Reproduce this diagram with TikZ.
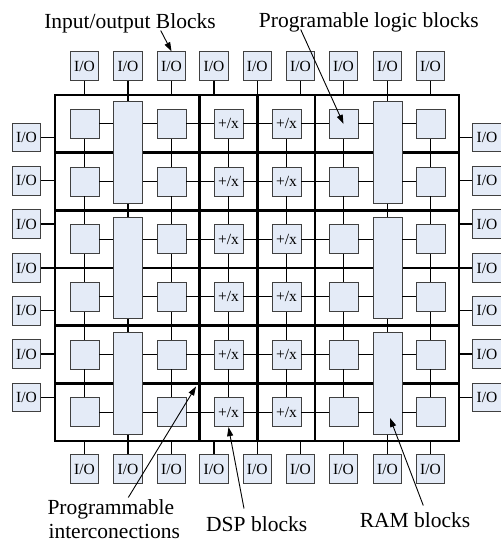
\documentclass[tikz,border=0pt]{standalone}
\usepackage{fontspec}
\setmainfont{Liberation Serif}
\usetikzlibrary{arrows.meta}
\definecolor{boxfill}{HTML}{E4EBF7}
\definecolor{boxline}{HTML}{404040}
\tikzset{
  blk/.style={draw=boxline, fill=boxfill, line width=0.9pt, minimum width=29pt, minimum height=29pt, inner sep=0pt, font=\fontsize{15.5}{17}\selectfont},
  ram/.style={blk, minimum height=101.7pt},
  iobox/.style={blk, minimum width=28.5pt, minimum height=28.5pt},
  wire/.style={line width=1.3pt},
  gridline/.style={line width=2.5pt},
  frame/.style={draw, line width=1.5pt, minimum width=404pt, minimum height=346pt, inner sep=0pt},
  lbl/.style={font=\fontsize{21.5}{25.5}\selectfont, inner sep=0pt},
  ptr/.style={line width=0.9pt, -{Triangle[length=9pt,width=6pt]}}
}
\begin{document}
\begin{tikzpicture}[x=1pt,y=-1pt]
\useasboundingbox (0,0) rectangle (501,542);
% frame and grid
\node[frame] (F) at (257,268) {};
\foreach \x in {199.5,257.3,315} \draw[gridline] (\x,95) -- (\x,441);
\foreach \y in {152.67,210.33,268,325.67,383.33} \draw[gridline] (55,\y) -- (459,\y);
% logic blocks
\foreach \c/\x in {1/84.5,3/171.5,6/343.5,8/430.5}
  \foreach \r/\y in {0/123.83,1/181.5,2/239.17,3/296.83,4/354.5,5/412.17}
    \node[blk] (b\c-\r) at (\x,\y) {};
% DSP blocks
\foreach \c/\x in {4/228.5,5/286.5}
  \foreach \r/\y in {0/123.83,1/181.5,2/239.17,3/296.83,4/354.5,5/412.17}
    \node[blk] (b\c-\r) at (\x,\y) {+/x};
% RAM blocks
\foreach \c/\x in {2/128,7/387.5}
  \foreach \p/\y in {0/152.67,1/268,2/383.33}
    \node[ram] (m\c-\p) at (\x,\y) {};
% horizontal wires
\foreach \r in {0,...,5}{
  \pgfmathtruncatemacro{\p}{int(\r/2)}
  \draw[wire] (b1-\r.east) -- (b1-\r.east -| m2-\p.west);
  \draw[wire] (b3-\r.west -| m2-\p.east) -- (b3-\r.west);
  \draw[wire] (b3-\r.east) -- (b4-\r.west);
  \draw[wire] (b4-\r.east) -- (b5-\r.west);
  \draw[wire] (b5-\r.east) -- (b6-\r.west);
  \draw[wire] (b6-\r.east) -- (b6-\r.east -| m7-\p.west);
  \draw[wire] (b8-\r.west -| m7-\p.east) -- (b8-\r.west);
}
% vertical wires
\foreach \c in {1,3,4,5,6,8}
  \foreach \r in {0,...,4}{
    \pgfmathtruncatemacro{\n}{\r+1}
    \draw[wire] (b\c-\r.south) -- (b\c-\n.north);
  }
\foreach \c in {2,7}{
  \draw[wire] (m\c-0.north |- F.north) -- (m\c-0.north);
  \draw[wire] (m\c-0.south) -- (m\c-1.north);
  \draw[wire] (m\c-1.south) -- (m\c-2.north);
  \draw[wire] (m\c-2.south) -- (m\c-2.south |- F.south);
}
% I/O blocks
\foreach \i/\x in {1/84.5,2/128,3/171.5,4/214,5/257.3,6/300.5,7/343.5,8/387.5,9/430.5}{
  \node[iobox] (t\i) at (\x,66) {I/O};
  \draw[wire] (t\i.south) -- (t\i.south |- F.north);
  \node[iobox] (d\i) at (\x,469) {I/O};
  \draw[wire] (d\i.north) -- (d\i.north |- F.south);
}
\foreach \i/\y in {1/137.5,2/180.8,3/224.1,4/268,5/310.7,6/354,7/397.3}{
  \node[iobox] (l\i) at (26.5,\y) {I/O};
  \draw[wire] (l\i.east) -- (l\i.east -| F.west);
  \node[iobox] (r\i) at (487,\y) {I/O};
  \draw[wire] (r\i.west) -- (r\i.west -| F.east);
}
% labels
\node[lbl, anchor=base] (Lio) at (130,28.3) {Input/output Blocks};
\node[lbl, anchor=base] (Lplb) at (368.8,27.5) {Programable logic blocks};
\node[lbl, anchor=base] (Lpi1) at (110.8,514) {Programmable};
\node[lbl, anchor=base] (Lpi2) at (114.2,538.5) {interconections};
\node[lbl, anchor=base] (Ldsp) at (256.7,531.7) {DSP blocks};
\node[lbl, anchor=base] (Lram) at (415,527.3) {RAM blocks};
% pointers
\coordinate (aIO) at (160.7,30.5);
\coordinate (aPLB) at (300.7,29.5);
\coordinate (aPI) at (128.3,497.5);
\coordinate (tPI) at (196,386.5);
\coordinate (aDSP) at (244,508.5);
\coordinate (aRAM) at (423.3,505.5);
\coordinate (tRAM) at (390,418);
\draw[ptr] (aIO) -- (t3.north);
\draw[ptr] (aPLB) -- (b6-0.center);
\draw[ptr] (aPI) -- (tPI);
\draw[ptr] (aDSP) -- (b4-5.south);
\draw[ptr] (aRAM) -- (tRAM);
\end{tikzpicture}
\end{document}
